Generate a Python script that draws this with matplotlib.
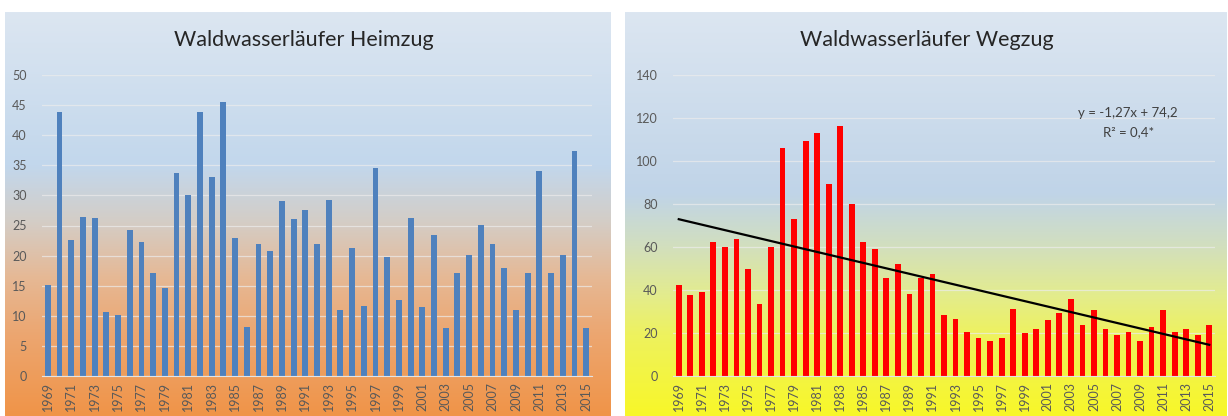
import numpy as np
import matplotlib
matplotlib.use("Agg")
import matplotlib.pyplot as plt
from matplotlib.colors import LinearSegmentedColormap

plt.rcParams['font.family'] = ['Lato', 'DejaVu Sans']

years = list(range(1969, 2016))

heimzug = [15.1, 43.9, 22.6, 26.4, 26.2, 10.7, 10.1, 24.3, 22.3, 17.1,
           14.6, 33.8, 30.0, 43.9, 33.0, 45.5, 23.0, 8.2, 21.9, 20.7,
           29.0, 26.0, 27.6, 22.0, 29.2, 11.0, 21.3, 11.7, 34.5, 19.8,
           12.7, 26.2, 11.4, 23.4, 8.0, 17.1, 20.1, 25.1, 22.0, 17.9,
           11.0, 17.1, 34.1, 17.1, 20.1, 37.3, 8.0]

wegzug = [42.3, 37.7, 38.9, 62.2, 60.2, 63.9, 49.6, 33.5, 60.2, 105.9,
          73.2, 109.5, 112.9, 89.5, 116.4, 80.0, 62.2, 59.1, 45.4, 51.9,
          38.3, 45.4, 47.3, 28.4, 26.7, 20.6, 17.7, 16.3, 17.7, 31.3,
          19.8, 21.7, 25.9, 29.5, 35.8, 23.6, 30.7, 21.7, 18.9, 20.6,
          16.3, 22.9, 30.7, 20.6, 21.7, 18.9, 23.6]

# linear trend as given in the chart (x = 1..n)
trend_slope = -1.27
trend_intercept = 74.2
r2_label = "0,4*"

W, H = 1228, 416
fig = plt.figure(figsize=(W / 100, H / 100), dpi=100)
fig.patch.set_facecolor("white")

stops_left = [(0.0, "#dce6f1"), (0.38, "#c2d7ec"), (0.52, "#d4cdc6"),
              (0.66, "#e6b894"), (0.80, "#eca670"), (1.0, "#f09448")]
stops_right = [(0.0, "#dce6f1"), (0.45, "#c0d4e8"), (0.58, "#d2dfbe"),
               (0.70, "#e3ec8e"), (0.80, "#eef25e"), (1.0, "#f8f728")]


def background(x0, x1, stops):
    bg = fig.add_axes([x0 / W, 0, (x1 - x0) / W, (H - 12) / H], zorder=0)
    cmap = LinearSegmentedColormap.from_list("bg", stops)
    grad = np.linspace(0, 1, 256).reshape(-1, 1)
    bg.imshow(grad, aspect="auto", cmap=cmap, extent=[0, 1, 0, 1])
    bg.axis("off")


def bar_axes(x0, x1, values, color, ymax, ystep):
    ax = fig.add_axes([x0 / W, (H - 376) / H, (x1 - x0) / W, 301 / H], zorder=1)
    ax.patch.set_visible(False)
    pos = np.arange(len(values))
    ax.bar(pos, values, width=0.5, color=color, zorder=2)
    ax.set_xlim(-0.5, len(values) - 0.5)
    ax.set_ylim(0, ymax)
    ax.set_yticks(np.arange(0, ymax + 1, ystep))
    ax.set_xticks(pos[::2])
    ax.set_xticklabels([str(y) for y in years[::2]], rotation=90)
    ax.tick_params(length=0, labelsize=9, colors="#595959", pad=4)
    ax.tick_params(axis="y", pad=11)
    for s in ["top", "right", "left"]:
        ax.spines[s].set_visible(False)
    ax.spines["bottom"].set_color("#e4e4e4")
    ax.grid(axis="y", color="#ececec", alpha=0.7, linewidth=0.9, zorder=0)
    ax.set_axisbelow(True)
    return ax


background(5, 611, stops_left)
background(625, 1227, stops_right)

ax1 = bar_axes(42, 592, heimzug, "#4f81bd", 50, 5)
ax2 = bar_axes(673, 1215, wegzug, "#ff0000", 140, 20)

xs = np.arange(len(wegzug))
ax2.plot(xs, trend_slope * (xs + 1) + trend_intercept, color="black",
         linewidth=1.6, zorder=3)

ax2.text(0.84, 0.875, "y = " + f"{trend_slope}x + {trend_intercept}".replace(".", ",").replace("+ -", "- "),
         transform=ax2.transAxes, ha="center", va="center", fontsize=9.5, color="#404040")
ax2.text(0.84, 0.81, "R² = " + r2_label, transform=ax2.transAxes,
         ha="center", va="center", fontsize=9.5, color="#404040")

fig.text(304 / W, 1 - 40 / H, "Waldwasserläufer Heimzug", ha="center", va="center",
         fontsize=15.5, color="#262626")
fig.text(927 / W, 1 - 40 / H, "Waldwasserläufer Wegzug", ha="center", va="center",
         fontsize=15.5, color="#262626")

fig.savefig("out.png", dpi=100)
